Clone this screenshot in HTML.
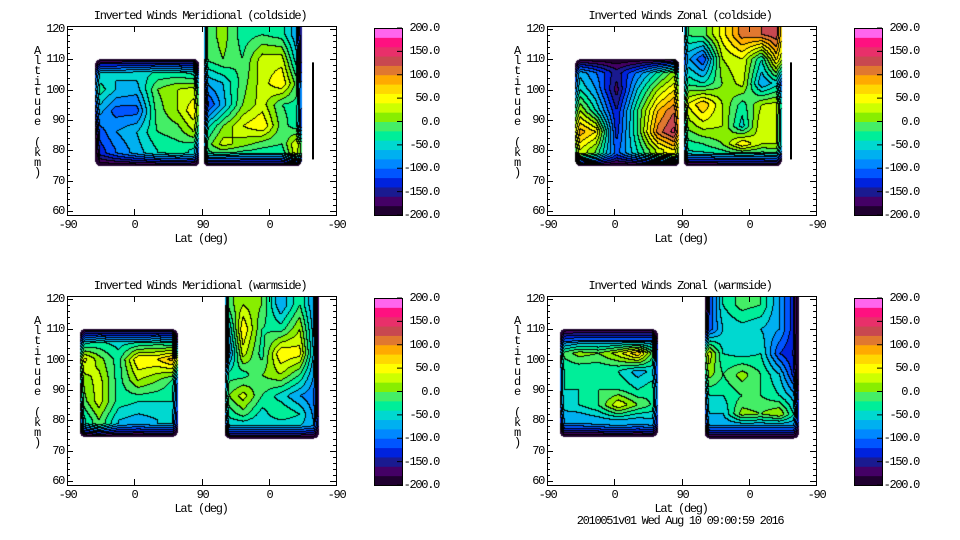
<!DOCTYPE html>
<html><head><meta charset="utf-8">
<style>
body{margin:0;background:#fff;width:960px;height:540px;overflow:hidden;font-family:"Liberation Mono",monospace;}
#wrap{position:relative;width:960px;height:540px;}
canvas{position:absolute;}
.t{position:absolute;font-size:12px;letter-spacing:-1.3px;color:#000;white-space:pre;line-height:12px;}
</style></head>
<body><div id="wrap">
<svg id="svg" width="960" height="540" style="position:absolute;left:0;top:0"></svg>
</div>
<script>
// ---------- data ----------
const bandColors=["#200030","#440066","#1a1a90","#0022dd","#0055ff","#0088ff","#00b0f0","#00d8d0","#00ee99","#44ee66","#88ee00","#ccff00","#ffff00","#ffd800","#ffaa00","#e07830","#c84850","#e8306a","#ff1080","#ff66ee"];
const cbTicks=[200,150,100,50,0,-50,-100,-150,-200];
const yTicks=[120,110,100,90,80,70,60];
const xTickLabels=["-90","0","90","0","-90"];
const titles=["Inverted Winds Meridional (coldside)","Inverted Winds Zonal (coldside)","Inverted Winds Meridional (warmside)","Inverted Winds Zonal (warmside)"];
// block extents: [uMin,uMax,altMin,altMax]
const extCold=[[38,177,74.8,110],[183,314,74.8,121]];
const extWarm=[[17,148,74.6,110],[211,337,74.0,121]];
const altsA=[80,86,93,100,106];
const altsB=[78,82,88,95,102,110,118];
const altsA4=[80,85,90,96,102,106];
// panel 1 meridional cold
const p1A=[[-140,-100,-70,-40,-30,-50],[-120,-80,-60,-20,-10,30],[-60,-110,-110,-10,20,70],[-20,-60,-70,0,20,30],[-60,-60,-50,-40,-40,-60]];
const p1B=[[-30,-30,-40,-40,-40,60],[-20,30,10,-10,-20,60],[-60,0,40,60,-10,-40],[-140,-70,0,30,-20,-30],[-80,-60,-10,30,60,-30],[-20,0,-20,30,30,-80],[-20,10,-30,-20,-30,-90]];
// panel 2 zonal cold
const p2A=[[50,0,-110,-40,30,70],[100,60,-130,-20,110,160],[40,-40,-140,-20,80,130],[-30,-80,-170,-60,20,70],[-60,-100,-150,-100,-40,20]];
const p2B=[[-50,-50,-40,-40,-40,-30],[-30,-20,0,60,20,20],[0,30,20,-50,40,20],[30,80,20,-30,20,30],[-20,-40,0,30,-80,-40],[-60,-120,20,40,-40,100],[-20,-10,50,110,120,140]];
// panel 3 meridional warm
const p3A=[[-60,0,-60,-70,-60,-60],[-20,30,-30,-40,-40,-40],[0,30,-30,20,0,-30],[60,10,-30,60,60,100],[-60,-40,-50,-50,-40,-60]];
const p3B=[[-60,-60,-60,-60,-60,-80],[-40,-10,-50,-20,-40,-100],[-10,30,-20,-50,-80,-100],[-30,-30,0,20,-20,-100],[-130,30,-30,60,50,-100],[-100,60,-20,-30,20,-100],[-20,20,0,-80,-20,-100]];
// panel 4 zonal warm
const p4A=[[-80,-80,-70,-60,-70,-60],[-50,-40,-20,40,0,-30],[-40,-40,-20,-20,-40,-20],[-40,-40,-40,-40,-70,-50],[-20,10,0,30,80,-40],[-100,-80,-80,-80,-80,-80]];
const p4B=[[-80,-80,-80,-80,-80,-80],[-60,-60,10,0,20,-60],[-40,-40,-20,-20,-40,-80],[20,-20,10,-20,-60,-150],[60,-40,-50,-40,-120,-150],[-130,-60,-50,-60,-80,-150],[-150,-40,-10,-20,-80,-150]];

const panels=[
 {ox:0,oy:0,blocks:[{ext:extCold[0],alts:altsA,v:p1A},{ext:extCold[1],alts:altsB,v:p1B}],name:"meridional-coldside"},
 {ox:480,oy:0,blocks:[{ext:extCold[0],alts:altsA,v:p2A},{ext:extCold[1],alts:altsB,v:p2B}],name:"zonal-coldside"},
 {ox:0,oy:270,blocks:[{ext:extWarm[0],alts:altsA,v:p3A},{ext:extWarm[1],alts:altsB,v:p3B}],name:"meridional-warmside"},
 {ox:480,oy:270,blocks:[{ext:extWarm[0],alts:altsA4,v:p4A},{ext:extWarm[1],alts:altsB,v:p4B}],name:"zonal-warmside"}
];

// ---------- geometry ----------
const BX=67,BY=26,BW=269,BH=189;
const CW=5.9;
function xmap(u){return BX+u*BW/360;}
function ymap(a){return 29+(120-a)*182/60;}
function umap(px){return (px-BX)*360/BW;}
function amap(py){return 120-(py-29)*60/182;}

const wrap=document.getElementById('wrap');
const svg=document.getElementById('svg');
const NS="http://www.w3.org/2000/svg";
function sv(tag,attrs,parent){const e=document.createElementNS(NS,tag);for(const k in attrs)e.setAttribute(k,attrs[k]);(parent||svg).appendChild(e);return e;}
function txt(x,y,s,align,name){const d=document.createElement('div');d.className='t';d.textContent=s;
 
 
 wrap.appendChild(d);const w=s.length*CW;let l=x;if(align==='c')l=x-w/2;else if(align==='r')l=x-w;d.style.left=l+'px';d.style.top=(y-6)+'px';return d;}

function interp(b,u,a){
 const [u0,u1]=b.ext;const n=b.v[0].length;
 let fx=(u-u0)/(u1-u0)*(n-1);fx=Math.max(0,Math.min(n-1,fx));
 const al=b.alts;let r=0;
 if(a<=al[0])r=0;else if(a>=al[al.length-1])r=al.length-1;else{for(let i=0;i<al.length-1;i++){if(a>=al[i]&&a<=al[i+1]){r=i+(a-al[i])/(al[i+1]-al[i]);break;}}}
 const i0=Math.floor(fx),i1=Math.min(n-1,i0+1),tx=fx-i0;
 const r0=Math.floor(r),r1=Math.min(al.length-1,r0+1),ty=r-r0;
 const v=b.v;
 const top=v[r0][i0]*(1-tx)+v[r0][i1]*tx, bot=v[r1][i0]*(1-tx)+v[r1][i1]*tx;
 return top*(1-ty)+bot*ty;
}
function hexRGB(h){return [parseInt(h.substr(1,2),16),parseInt(h.substr(3,2),16),parseInt(h.substr(5,2),16)];}
const rgb=bandColors.map(hexRGB);

panels.forEach((p,pi)=>{
 const g=sv('g',{transform:`translate(${p.ox},${p.oy})`});
 
 
 const cv=document.createElement('canvas');cv.width=BW;cv.height=BH;
 cv.style.left=(p.ox+BX)+'px';cv.style.top=(p.oy+BY)+'px';
 
 
 wrap.insertBefore(cv,svg);
 const ctx=cv.getContext('2d');const img=ctx.createImageData(BW,BH);
 const band=new Int16Array(BW*BH).fill(-1);
 for(let y=0;y<BH;y++)for(let x=0;x<BW;x++){
  const px=BX+x+0.5,py=BY+y+0.5;const u=umap(px),a=amap(py);
  for(const b of p.blocks){
   const [u0,u1,a0,a1]=b.ext;
   if(u>=u0&&u<=u1&&a>=a0&&a<=a1){
    const dxL=px-xmap(u0),dxR=xmap(u1)-px;
    const dyT=py-ymap(a1),dyB=ymap(a0)-py;
    // rounded corners
    const R=5;const cx=Math.min(dxL,dxR),cy=(a1<119)?Math.min(dyT,dyB):dyB;
    if(cx<R&&cy<R&&Math.hypot(R-cx,R-cy)>R)continue;
    let v=interp(b,u,a);
    let f=1;
    if(dyB<13)f=Math.min(f,Math.pow(dyB/13,0.8));
    if(dyT<14&&a1<119)f=Math.min(f,Math.pow(dyT/14,0.8));
    v=-205+(v+205)*Math.max(0,f);
    if(cx<5)v=v-(1-cx/5)*70;
    band[y*BW+x]=Math.max(0,Math.min(19,Math.floor((v+200)/20)));
   }
  }
 }
 for(let y=0;y<BH;y++)for(let x=0;x<BW;x++){
  const k=y*BW+x,bb=band[k];const o=k*4;
  if(bb<0){img.data[o+3]=0;continue;}
  let c=rgb[bb];
  const r=x<BW-1?band[k+1]:bb,d=y<BH-1?band[k+BW]:bb;
  if((r>=0&&r!==bb)||(d>=0&&d!==bb))c=[0,0,0];
  img.data[o]=c[0];img.data[o+1]=c[1];img.data[o+2]=c[2];img.data[o+3]=255;
 }
 ctx.putImageData(img,0,0);
 const box=sv('rect',{x:BX+0.5,y:BY+0.5,width:BW,height:BH,fill:'none',stroke:'#000','stroke-width':1},g);
 
 
 for(let a=60;a<=120;a+=2){const y=Math.round(ymap(a))+0.5;const L=(a%10===0)?6:3;
  sv('line',{x1:BX,y1:y,x2:BX+L,y2:y,stroke:'#000'},g);sv('line',{x1:BX+BW,y1:y,x2:BX+BW-L,y2:y,stroke:'#000'},g);}
 yTicks.forEach(a=>txt(p.ox+64,p.oy+ymap(a),String(a),'r','y-tick-label'));
 xTickLabels.forEach((s,i)=>{const x=Math.round(xmap(i*90))+0.5;
  sv('line',{x1:x,y1:BY+BH,x2:x,y2:BY+BH-6,stroke:'#000'},g);sv('line',{x1:x,y1:BY,x2:x,y2:BY+6,stroke:'#000'},g);
  txt(p.ox+x,p.oy+225,s,'c','x-tick-label');});
 txt(p.ox+201,p.oy+239,"Lat (deg)",'c','x-axis-title');
 txt(p.ox+200,p.oy+16,titles[pi],'c','plot-title');
 const ylab="Altitude (km)";
 for(let i=0;i<ylab.length;i++){txt(p.ox+37,p.oy+51+i*10.2,ylab[i],'c','y-axis-title');}
 const cbx=374,cby=28,cbw=28,cbh=187;
 bandColors.forEach((c,i)=>{const h=cbh/20;const r=sv('rect',{x:cbx,y:cby+cbh-(i+1)*h,width:cbw,height:h+0.5,fill:c},g);
  
  });
 sv('rect',{x:cbx+0.5,y:cby+0.5,width:cbw,height:cbh,fill:'none',stroke:'#000'},g);
 cbTicks.forEach(v=>{const y=cby+(200-v)/400*cbh;
  sv('line',{x1:cbx+cbw-5,y1:y,x2:cbx+cbw,y2:y,stroke:'#000'},g);
  txt(p.ox+439,p.oy+y,v.toFixed(1),'r','colorbar-label');});
});
const marks=[[0,312,77,109],[480,790,77,109]];
marks.forEach(m=>{const r=sv('rect',{x:m[1],y:ymap(m[3]),width:2,height:ymap(m[2])-ymap(m[3]),fill:'#000'});
 
 });
txt(680,521,"2010051v01 Wed Aug 10 09:00:59 2016",'c','timestamp-footer');
</script>
</body></html>
